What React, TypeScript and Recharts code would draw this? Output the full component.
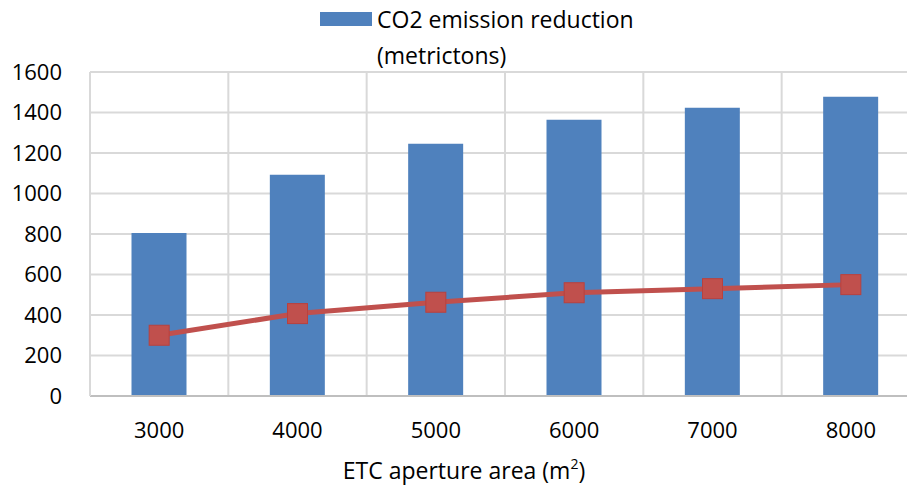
import React from 'react';
import { ComposedChart, Bar, Line, XAxis, YAxis, CartesianGrid, Label } from 'recharts';

const areas = ['3000', '4000', '5000', '6000', '7000', '8000'];
const co2Reduction = [805, 1093, 1246, 1364, 1423, 1478];
const lineValues = [300, 407, 463, 510, 530, 550];
const yTicks = [0, 200, 400, 600, 800, 1000, 1200, 1400, 1600];

const data = areas.map((area, i) => ({
  area,
  co2: co2Reduction[i],
  other: lineValues[i],
}));

const FONT = '"Open Sans", sans-serif';
const BLUE = '#4f81bd';
const RED = '#c0504d';
const GRID = '#d9d9d9';

const SquareDot = (props: any) => {
  const { cx, cy } = props;
  if (cx == null || cy == null) return null;
  const s = 20;
  return <rect x={cx - s / 2} y={cy - s / 2} width={s} height={s} fill={RED} stroke="#b9413e" strokeWidth={1} />;
};

const AxisTitle = () => (
  <text x={464} y={479} textAnchor="middle" fontFamily={FONT} fontSize={23} fill="#000">
    ETC aperture area (m
    <tspan fontSize={14} dy={-10}>2</tspan>
    <tspan dy={10}>)</tspan>
  </text>
);

export default function App() {
  return (
    <div style={{ position: 'absolute', left: 0, top: 0, width: 907, height: 491, overflow: 'hidden', background: '#fff' }}>
      {/* legend holds only the bar series */}
      <div style={{ position: 'absolute', left: 320, top: 3, fontFamily: FONT, fontSize: 23, lineHeight: '32px', color: '#000' }}>
        <div style={{ display: 'flex', alignItems: 'center' }}>
          <span style={{ display: 'inline-block', width: 52, height: 14, background: BLUE, marginRight: 5 }} />
          <span>CO2 emission reduction</span>
        </div>
        <div style={{ paddingLeft: 57, marginTop: 4 }}>(metrictons)</div>
      </div>
      <ComposedChart
        width={930}
        height={491}
        data={data}
        margin={{ top: 72, right: 10, bottom: 65, left: 0 }}
        barCategoryGap="30%"
      >
        <CartesianGrid
          stroke={GRID}
          strokeWidth={2}
          verticalCoordinatesGenerator={({ offset }: any) =>
            Array.from({ length: areas.length + 1 }, (_, i) => offset.left + (i * offset.width) / areas.length)
          }
        />
        <XAxis
          dataKey="area"
          height={30}
          tickLine={false}
          axisLine={{ stroke: '#bfbfbf', strokeWidth: 2 }}
          tick={{ fontFamily: FONT, fontSize: 22, fill: '#000' }}
          tickMargin={20}
          interval={0}
        >
          <Label content={<AxisTitle />} />
        </XAxis>
        <YAxis
          width={90}
          domain={[0, 1600]}
          ticks={yTicks}
          tickLine={false}
          axisLine={{ stroke: GRID, strokeWidth: 2 }}
          tick={{ fontFamily: FONT, fontSize: 22, fill: '#000' }}
          tickMargin={22}
          interval={0}
        />
        <Bar dataKey="co2" fill={BLUE} isAnimationActive={false} />
        <Line
          type="linear"
          dataKey="other"
          stroke={RED}
          strokeWidth={5}
          dot={<SquareDot />}
          activeDot={false}
          isAnimationActive={false}
        />
      </ComposedChart>
    </div>
  );
}
